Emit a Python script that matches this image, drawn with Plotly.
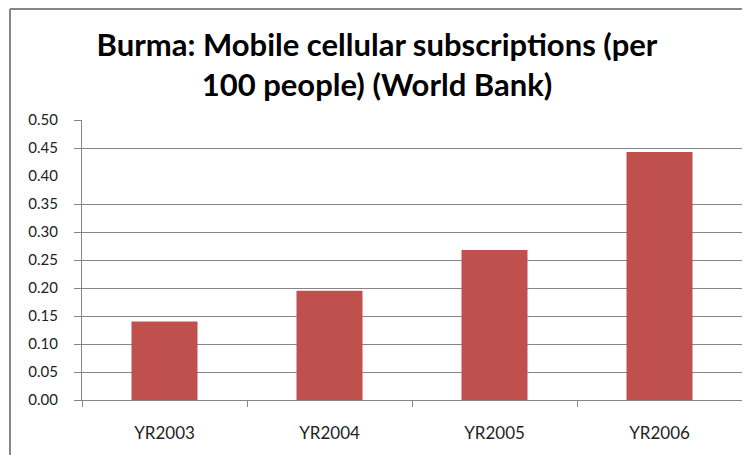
import plotly.graph_objects as go

categories = ["YR2003", "YR2004", "YR2005", "YR2006"]
values = [0.140, 0.195, 0.268, 0.443]
tick_vals = [0.0, 0.05, 0.10, 0.15, 0.20, 0.25, 0.30, 0.35, 0.40, 0.45, 0.50]
tick_text = ["0.00", "0.05", "0.10", "0.15", "0.20", "0.25", "0.30", "0.35", "0.40", "0.45", "0.50"]
grid_vals = [0.0, 0.05, 0.10, 0.15, 0.20, 0.25, 0.30, 0.35, 0.45, 0.50]

BAR = "#C0504D"
GRID = "#868686"
FONT = "Lato, sans-serif"

# plot area in figure pixels (page has an 8px body margin)
L, R, T, B = 74, 734, 112, 392.3
W, H = R - L, B - T

fig = go.Figure()
fig.add_trace(go.Bar(x=categories, y=values, marker=dict(color=BAR, line=dict(width=0)),
                     showlegend=False, hoverinfo="x+y"))
fig.add_trace(go.Scatter(x=categories, y=values, yaxis="y2", mode="markers",
                         marker=dict(opacity=0), showlegend=False, hoverinfo="skip"))

fig.update_layout(
    width=750, height=455,
    margin=dict(l=L, r=750 - R, t=T, b=455 - B, autoexpand=False),
    paper_bgcolor="white", plot_bgcolor="white",
    bargap=0.6,
    title=dict(text="<b>Burma: Mobile cellular subscriptions (per<br>100 people) (World Bank)</b>",
               x=0.492, xref="container", xanchor="center",
               y=0.895, yref="container", yanchor="middle",
               font=dict(family=FONT, size=31, color="black")),
    xaxis=dict(showgrid=False, showline=True, linecolor=GRID, linewidth=1, automargin=False,
               ticks="outside", tickson="boundaries", ticklen=6, tickcolor=GRID,
               tickfont=dict(family=FONT, size=17, color="#222"), zeroline=False,
               ticklabelstandoff=18),
    yaxis=dict(range=[0, 0.5], tickvals=tick_vals, ticktext=tick_text, showgrid=False,
               ticks="", showline=True, linecolor=GRID, linewidth=1, zeroline=False,
               automargin=False,
               tickfont=dict(family=FONT, size=15, color="#222"), ticklabelstandoff=20),
    yaxis2=dict(range=[0, 0.5], overlaying="y", side="left", tickvals=grid_vals,
                showticklabels=False, showgrid=True, gridcolor=GRID, gridwidth=1,
                automargin=False,
                ticks="outside", ticklen=7, tickcolor=GRID, zeroline=False, showline=False),
    shapes=[
        dict(type="line", xref="paper", yref="paper", x0=(2 - L) / W, x1=(2 - L) / W,
             y0=(B - 1) / H, y1=(B - 470) / H, line=dict(color=GRID, width=2)),
        dict(type="line", xref="paper", yref="paper", x0=(2 - L) / W, x1=(780 - L) / W,
             y0=(B - 1) / H, y1=(B - 1) / H, line=dict(color=GRID, width=2)),
    ],
)

fig.write_html("out.html")
